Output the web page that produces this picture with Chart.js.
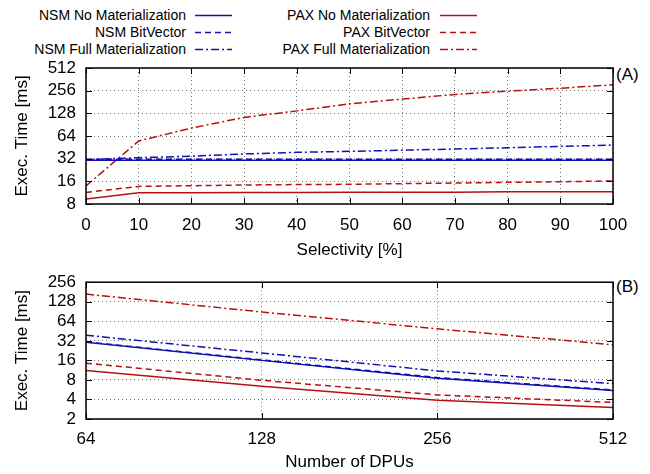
<!DOCTYPE html>
<html><head><meta charset="utf-8">
<script src="https://cdn.jsdelivr.net/npm/chart.js@4.4.0/dist/chart.umd.min.js"></script>
<style>
html,body{margin:0;padding:0;background:#fff;}
body{width:650px;height:474px;position:relative;overflow:hidden;font-family:"Liberation Sans",Arial,Helvetica,sans-serif;}
canvas{position:absolute;left:0;}
.lg{position:absolute;font-size:14px;line-height:17px;color:#000;white-space:nowrap;text-align:right;}
.tag{position:absolute;font-size:17px;line-height:20px;color:#000;}
svg{position:absolute;left:0;top:0;}
</style></head><body>
<svg width="650" height="60" id="lgsvg"></svg>
<div id="legend"></div>
<div class="tag" style="left:616px;top:65px;">(A)</div>
<div class="tag" style="left:616px;top:277px;">(B)</div>
<canvas id="chartA" width="650" height="262" style="top:0px;"></canvas>
<canvas id="chartB" width="650" height="212" style="top:262px;"></canvas>
<script>
// ---- data ----
const seriesNames = ["NSM No Materialization","NSM BitVector","NSM Full Materialization",
                     "PAX No Materialization","PAX BitVector","PAX Full Materialization"];
const selectivity = [0,10,20,30,40,50,60,70,80,90,100];
const nsmNoMatSel   = [30.5,30.5,30.5,30.5,30.5,30.5,30.5,30.5,30.5,30.5,30.5];
const nsmBitVecSel  = [31.5,31.5,31.5,31.5,31.5,31.5,31.5,31.5,31.5,31.5,31.5];
const nsmFullMatSel = [31,33,34.5,37,38.8,40,41.5,43,44.7,46.6,48.5];
const paxNoMatSel   = [9.3,11.3,11.3,11.4,11.4,11.5,11.5,11.5,11.6,11.6,11.6];
const paxBitVecSel  = [11.4,13.7,14,14.3,14.5,14.6,14.9,15.2,15.5,15.8,16.2];
const paxFullMatSel = [13.9,55,81.5,113,138,171,198,228,252,276,306];

const dpus = [64,128,256,512];
const nsmNoMatDpu   = [30.4,16,8.5,5.5];
const nsmBitVecDpu  = [30.8,16.3,8.7,5.6];
const nsmFullMatDpu = [39,20.8,11,7];
const paxNoMatDpu   = [11.2,6.4,3.9,3.0];
const paxBitVecDpu  = [14.5,7.9,4.7,3.6];
const paxFullMatDpu = [168,89,49,27.8];

const yTicksA = [8,16,32,64,128,256,512];
const xTicksA = [0,10,20,30,40,50,60,70,80,90,100];
const yTicksB = [2,4,8,16,32,64,128,256];
const xTicksB = [64,128,256,512];

// ---- styles ----
const BLUE = '#1010b4';
const RED = '#b81010';
const colors = [BLUE,BLUE,BLUE,RED,RED,RED];
const dashes = [[],[6,4],[8,3,2,3],[],[6,4],[8,3,2,3]];
const FONT = {family:'"Liberation Sans", Arial, Helvetica, sans-serif', size:17};

// ---- legend ----
(function(){
  const svg = document.getElementById('lgsvg');
  const lg = document.getElementById('legend');
  const rows = [15,32,49];
  seriesNames.forEach((name,i)=>{
    const col = i<3 ? 0 : 1;
    const y = rows[i%3];
    const textRight = col===0 ? 186 : 430;
    const x0 = col===0 ? 195 : 440;
    const d = document.createElement('div');
    d.className='lg';
    d.style.right = (650-textRight)+'px';
    d.style.top = (y-8.5)+'px';
    d.textContent = name;
    lg.appendChild(d);
    const ln = document.createElementNS('http://www.w3.org/2000/svg','line');
    ln.setAttribute('x1',x0); ln.setAttribute('x2',x0+37);
    ln.setAttribute('y1',y+0.5); ln.setAttribute('y2',y+0.5);
    ln.setAttribute('stroke',colors[i]); ln.setAttribute('stroke-width','1.5');
    if(dashes[i].length) ln.setAttribute('stroke-dasharray',dashes[i].join(' '));
    svg.appendChild(ln);
  });
})();

// ---- frame plugin ----
const framePlugin = {
  id:'frame',
  afterDraw(chart){
    const {ctx, chartArea:a, scales} = chart;
    ctx.save();
    ctx.setLineDash([]);
    ctx.strokeStyle='#000';
    ctx.lineWidth=1;
    const L=6;
    ctx.beginPath();
    scales.x.ticks.forEach(t=>{
      const px=Math.round(scales.x.getPixelForValue(t.value))+0.5;
      ctx.moveTo(px,a.bottom); ctx.lineTo(px,a.bottom-L);
      ctx.moveTo(px,a.top); ctx.lineTo(px,a.top+L);
    });
    scales.y.ticks.forEach(t=>{
      const py=Math.round(scales.y.getPixelForValue(t.value))+0.5;
      ctx.moveTo(a.left,py); ctx.lineTo(a.left+L,py);
      ctx.moveTo(a.right,py); ctx.lineTo(a.right-L,py);
    });
    ctx.stroke();
    ctx.lineWidth=1.5;
    ctx.strokeRect(a.left, a.top, a.right-a.left, a.bottom-a.top);
    ctx.restore();
  }
};

function makeDatasets(xs, arrs){
  return arrs.map((arr,i)=>({
    label: seriesNames[i],
    data: xs.map((x,j)=>({x:x, y:arr[j]})),
    borderColor: colors[i],
    borderDash: dashes[i],
    borderWidth: 1.5,
    pointRadius: 0,
    fill: false,
    tension: 0
  }));
}

function gridOpts(){
  return {color:'rgba(0,0,0,0.55)', lineWidth:1, drawTicks:false, borderDash:[1,3]};
}

Chart.defaults.font.family = FONT.family;
Chart.defaults.color = '#000';

new Chart(document.getElementById('chartA'), {
  type:'line',
  data:{datasets: makeDatasets(selectivity,[nsmNoMatSel,nsmBitVecSel,nsmFullMatSel,paxNoMatSel,paxBitVecSel,paxFullMatSel])},
  options:{
    responsive:false, animation:false, devicePixelRatio:1,
    layout:{padding:{top:68,right:37,left:0,bottom:0}},
    plugins:{legend:{display:false}, tooltip:{enabled:false}},
    scales:{
      x:{type:'linear', min:0, max:100,
        afterBuildTicks:s=>{s.ticks = xTicksA.map(v=>({value:v}));},
        ticks:{font:FONT, color:'#000', padding:11, autoSkip:false, maxRotation:0, callback:v=>String(v)},
        grid:gridOpts(), border:{display:false, dash:[1,3]},
        afterFit:s=>{s.height=58;},
        title:{display:true, text:'Selectivity [%]', font:FONT, color:'#000', padding:{top:0,bottom:1}}
      },
      y:{type:'logarithmic', min:8, max:512,
        afterBuildTicks:s=>{s.ticks = yTicksA.map(v=>({value:v}));},
        ticks:{font:FONT, color:'#000', padding:10, autoSkip:false, callback:v=>String(v)},
        grid:gridOpts(), border:{display:false, dash:[1,3]},
        afterFit:s=>{s.width=86;},
        title:{display:true, text:'Exec. Time [ms]', font:FONT, color:'#000', padding:{top:12,bottom:0}}
      }
    }
  },
  plugins:[framePlugin]
});

new Chart(document.getElementById('chartB'), {
  type:'line',
  data:{datasets: makeDatasets(dpus,[nsmNoMatDpu,nsmBitVecDpu,nsmFullMatDpu,paxNoMatDpu,paxBitVecDpu,paxFullMatDpu])},
  options:{
    responsive:false, animation:false, devicePixelRatio:1,
    layout:{padding:{top:16,right:37,left:0,bottom:0}},
    plugins:{legend:{display:false}, tooltip:{enabled:false}},
    scales:{
      x:{type:'logarithmic', min:64, max:512,
        afterBuildTicks:s=>{s.ticks = xTicksB.map(v=>({value:v}));},
        ticks:{font:FONT, color:'#000', padding:10, autoSkip:false, maxRotation:0, callback:v=>String(v)},
        grid:gridOpts(), border:{display:false, dash:[1,3]},
        afterFit:s=>{s.height=55;},
        title:{display:true, text:'Number of DPUs', font:FONT, color:'#000', padding:{top:0,bottom:1}}
      },
      y:{type:'logarithmic', min:2, max:256,
        afterBuildTicks:s=>{s.ticks = yTicksB.map(v=>({value:v}));},
        ticks:{font:FONT, color:'#000', padding:10, autoSkip:false, callback:v=>String(v)},
        grid:gridOpts(), border:{display:false, dash:[1,3]},
        afterFit:s=>{s.width=86;},
        title:{display:true, text:'Exec. Time [ms]', font:FONT, color:'#000', padding:{top:12,bottom:0}}
      }
    }
  },
  plugins:[framePlugin]
});
</script>
</body></html>
